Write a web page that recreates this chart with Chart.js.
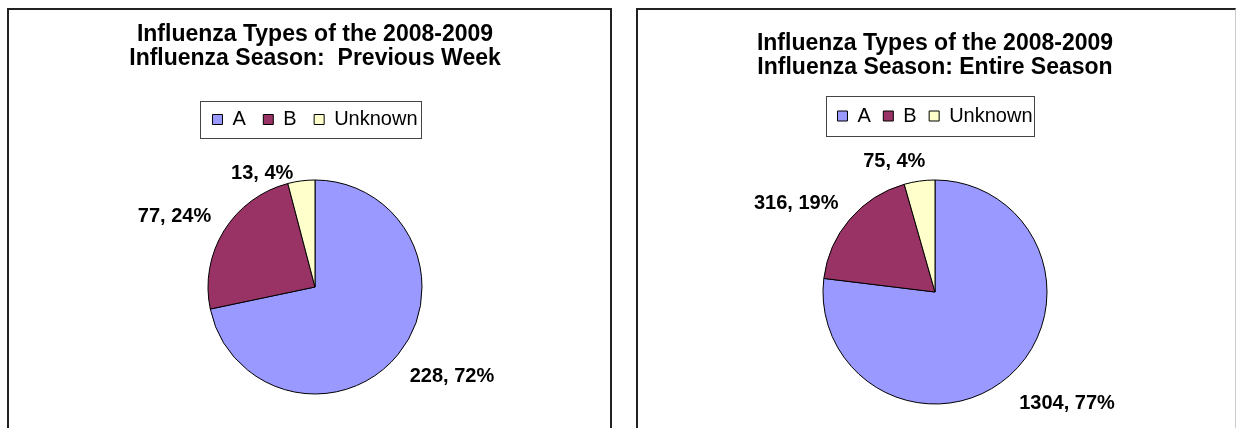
<!DOCTYPE html>
<html>
<head>
<meta charset="utf-8">
<script src="https://cdn.jsdelivr.net/npm/chart.js@4.4.1/dist/chart.umd.min.js"></script>
<style>
    html, body { margin: 0; padding: 0; background: #fff; width: 1236px; height: 428px; overflow: hidden; }
    .frame { position: absolute; top: 8px; height: 440px; box-sizing: border-box; border: 2px solid #222; border-bottom: none; }
    #frameWeek { left: 7px; width: 605px; }
    #frameSeason { left: 636px; width: 600px; border-right: 1px solid #ccc; }
    .holder { position: absolute; top: 0; }
    #holderWeek { left: 9px; }
    #holderSeason { left: 639px; }
</style>
</head>
<body>
<div class="frame" id="frameWeek"></div>
<div class="frame" id="frameSeason"></div>
<div class="holder" id="holderWeek"><canvas id="chartWeek" width="600" height="440"></canvas></div>
<div class="holder" id="holderSeason"><canvas id="chartSeason" width="596" height="455"></canvas></div>

<script>
// données
const categories = ["A", "B", "Unknown"];
const weekValues = [228, 77, 13];
const seasonValues = [1304, 316, 75];
const sliceColors = ["#9999FF", "#993366", "#FFFFCC"];
const weekTitle = ["Influenza Types of the 2008-2009", "Influenza Season:  Previous Week"];
const seasonTitle = ["Influenza Types of the 2008-2009", "Influenza Season: Entire Season"];

Chart.defaults.font.family = 'Arial, "Liberation Sans", sans-serif';
Chart.defaults.color = '#000';

// étiquettes "valeur, pourcentage" à l'extérieur des parts
const pieLabels = {
    id: 'pieLabels',
    afterDatasetsDraw(chart, args, opts) {
        const ctx = chart.ctx;
        const values = chart.data.datasets[0].data;
        const total = values.reduce((a, b) => a + b, 0);
        ctx.save();
        ctx.font = 'bold 20px Arial, "Liberation Sans", sans-serif';
        ctx.fillStyle = '#000';
        chart.getDatasetMeta(0).data.forEach((arc, i) => {
            const p = arc.getProps(['x', 'y', 'startAngle', 'endAngle', 'outerRadius'], true);
            const mid = (p.startAngle + p.endAngle) / 2;
            const r = p.outerRadius + opts.offset;
            const nudge = opts.nudge[i] || [0, 0];
            ctx.textAlign = Math.cos(mid) >= 0 ? 'left' : 'right';
            ctx.textBaseline = Math.sin(mid) >= 0 ? 'top' : 'bottom';
            const pct = Math.round(values[i] / total * 100);
            ctx.fillText(values[i] + ', ' + pct + '%',
                p.x + Math.cos(mid) * r + nudge[0], p.y + Math.sin(mid) * r + nudge[1]);
        });
        ctx.restore();
    }
};

// cadre autour de la légende
const legendFrame = {
    id: 'legendFrame',
    afterDraw(chart, args, opts) {
        const boxes = chart.legend.legendHitBoxes;
        if (!boxes || !boxes.length) return;
        const first = boxes[0], last = boxes[boxes.length - 1];
        const cy = first.top + first.height / 2;
        const ctx = chart.ctx;
        ctx.save();
        ctx.strokeStyle = '#444';
        ctx.lineWidth = 1;
        ctx.strokeRect(Math.round(first.left - opts.left) + 0.5, Math.round(cy - opts.half) + 0.5,
            Math.round(last.left + last.width + opts.right - first.left + opts.left), Math.round(opts.half * 2));
        ctx.restore();
    }
};

function renderPie(canvasId, values, title, lay) {
    const ctx = document.getElementById(canvasId).getContext('2d');
    return new Chart(ctx, {
        type: 'pie',
        data: {
            labels: categories,
            datasets: [{
                data: values,
                backgroundColor: sliceColors,
                borderColor: '#000',
                borderWidth: 1,
                radius: lay.radius
            }]
        },
        options: {
            responsive: false,
            animation: false,
            layout: { padding: lay.padding },
            plugins: {
                title: {
                    display: true,
                    text: title,
                    color: '#000',
                    font: { size: 23, weight: 'bold', lineHeight: '24px' },
                    padding: lay.titlePadding
                },
                legend: {
                    display: true,
                    position: 'top',
                    labels: {
                        boxWidth: 10,
                        boxHeight: 10,
                        padding: lay.legendPadding,
                        color: '#000',
                        font: { size: 20 }
                    }
                },
                tooltip: { enabled: false },
                pieLabels: { offset: 15, nudge: lay.labelNudge },
                legendFrame: lay.frame
            }
        },
        plugins: [pieLabels, legendFrame]
    });
}

renderPie('chartWeek', weekValues, weekTitle, {
    radius: 107,
    padding: { left: 12, right: 0, top: 0, bottom: 5.5 },
    titlePadding: { top: 23, bottom: 21 },
    legendPadding: 17.5,
    frame: { left: 12, right: 4, half: 18.5 },
    labelNudge: [[0, 3], [0, 4], [-6, 17]]
});

renderPie('chartSeason', seasonValues, seasonTitle, {
    radius: 112,
    padding: { left: 0, right: 4, top: 0, bottom: 7 },
    titlePadding: { top: 32, bottom: 13.5 },
    legendPadding: 12.5,
    frame: { left: 11, right: 2, half: 20 },
    labelNudge: [[0, 6], [0, 4], [8, 5]]
});
</script>
</body>
</html>
